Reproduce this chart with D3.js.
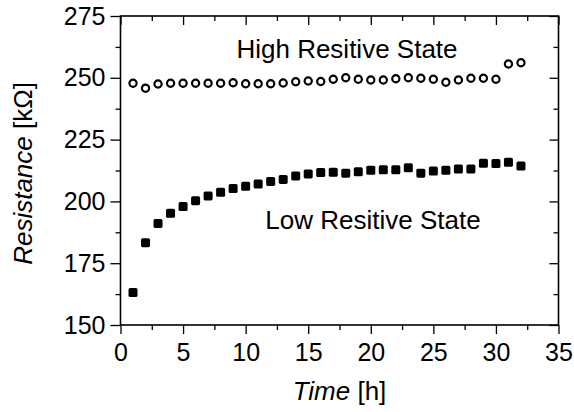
<!DOCTYPE html>
<html>
<head>
<meta charset="utf-8">
<script src="https://cdn.jsdelivr.net/npm/d3@7/dist/d3.min.js"></script>
<style>
  html, body { margin: 0; padding: 0; background: #fff; }
  svg { display: block; font-family: Arial, "Liberation Sans", sans-serif; }
</style>
</head>
<body>
<svg id="chart" width="574" height="412"></svg>
<script>
// Resistance over time for the two resistive states
const hours = d3.range(1, 33);
const highState = [247.8, 245.8, 247.5, 247.8, 247.8, 247.8, 247.8, 247.8, 248.0, 247.6,
                   247.6, 247.6, 247.9, 248.4, 248.7, 248.5, 249.4, 250.0, 249.4, 249.1,
                   249.1, 249.6, 250.0, 249.8, 249.4, 248.2, 249.1, 249.8, 249.8, 249.4,
                   255.6, 256.1];
const lowState = [163.1, 183.3, 191.1, 195.2, 197.9, 200.3, 202.2, 203.7, 205.2, 206.1,
                  207.0, 208.1, 208.9, 210.3, 211.1, 211.7, 211.8, 211.4, 212.0, 212.6,
                  212.8, 212.8, 213.6, 211.4, 212.3, 212.6, 213.1, 213.1, 215.4, 215.3,
                  215.8, 214.3];
const xTicks = [0, 5, 10, 15, 20, 25, 30, 35];
const xMinor = [2.5, 7.5, 12.5, 17.5, 22.5, 27.5, 32.5];
const yTicks = [150, 175, 200, 225, 250, 275];
const yMinor = [162.5, 187.5, 212.5, 237.5, 262.5];

const svg = d3.select("#chart");
const plotL = 120.5, plotR = 558.5, plotT = 16, plotB = 325;
const x = d3.scaleLinear().domain([0, 35]).range([plotL, plotR]);
const y = d3.scaleLinear().domain([150, 275]).range([plotB, plotT]);

const fontSize = 25;
const titleSize = 26;

function styleAxis(g) {
  g.select(".domain").remove();
  g.selectAll(".tick line").attr("stroke", "#000").attr("stroke-width", 1.3);
  g.selectAll(".tick text").attr("font-size", fontSize).attr("fill", "#000")
    .attr("font-family", "Arial, 'Liberation Sans', sans-serif");
}

// bottom axis: major with labels, minor without
svg.append("g").attr("transform", `translate(0,${plotB})`)
  .call(d3.axisBottom(x).tickValues(xTicks).tickSize(9).tickPadding(9).tickFormat(d3.format("d")))
  .call(styleAxis);
svg.append("g").attr("transform", `translate(0,${plotB})`)
  .call(d3.axisBottom(x).tickValues(xMinor).tickSize(5).tickFormat(""))
  .call(styleAxis);
// top axis: inward ticks
svg.append("g").attr("transform", `translate(0,${plotT})`)
  .call(d3.axisBottom(x).tickValues(xTicks).tickSize(9).tickFormat(""))
  .call(styleAxis);
svg.append("g").attr("transform", `translate(0,${plotT})`)
  .call(d3.axisBottom(x).tickValues(xMinor).tickSize(5).tickFormat(""))
  .call(styleAxis);

// left axis
svg.append("g").attr("transform", `translate(${plotL},0)`)
  .call(d3.axisLeft(y).tickValues(yTicks).tickSize(10).tickPadding(5).tickFormat(d3.format("d")))
  .call(styleAxis);
svg.append("g").attr("transform", `translate(${plotL},0)`)
  .call(d3.axisLeft(y).tickValues(yMinor).tickSize(5).tickFormat(""))
  .call(styleAxis);
// right axis: inward ticks
svg.append("g").attr("transform", `translate(${plotR},0)`)
  .call(d3.axisLeft(y).tickValues(yTicks).tickSize(9).tickFormat(""))
  .call(styleAxis);
svg.append("g").attr("transform", `translate(${plotR},0)`)
  .call(d3.axisLeft(y).tickValues(yMinor).tickSize(5).tickFormat(""))
  .call(styleAxis);

// frame
svg.append("rect")
  .attr("x", plotL).attr("y", plotT)
  .attr("width", plotR - plotL).attr("height", plotB - plotT)
  .attr("fill", "none").attr("stroke", "#000").attr("stroke-width", 1.6);

// low resistive state: filled squares
const sq = 9;
svg.append("g").selectAll("rect")
  .data(hours.map((h, i) => [h, lowState[i]]))
  .join("rect")
  .attr("x", d => x(d[0]) - sq / 2)
  .attr("y", d => y(d[1]) - sq / 2)
  .attr("width", sq).attr("height", sq)
  .attr("rx", 1.6)
  .attr("fill", "#000");

// high resistive state: open circles
svg.append("g").selectAll("circle")
  .data(hours.map((h, i) => [h, highState[i]]))
  .join("circle")
  .attr("cx", d => x(d[0]))
  .attr("cy", d => y(d[1]))
  .attr("r", 3.6)
  .attr("fill", "#fff")
  .attr("stroke", "#000")
  .attr("stroke-width", 2.2);

// annotations
svg.append("text").attr("x", 347).attr("y", 58)
  .attr("text-anchor", "middle").attr("font-size", titleSize)
  .text("High Resitive State");
svg.append("text").attr("x", 373).attr("y", 229)
  .attr("text-anchor", "middle").attr("font-size", titleSize)
  .text("Low Resitive State");

// axis titles
const xt = svg.append("text").attr("x", (plotL + plotR) / 2).attr("y", 400)
  .attr("text-anchor", "middle").attr("font-size", titleSize);
xt.append("tspan").attr("font-style", "italic").text("Time");
xt.append("tspan").text(" [h]");

const yt = svg.append("text")
  .attr("transform", `translate(32,${(plotT + plotB) / 2 + 3}) rotate(-90)`)
  .attr("text-anchor", "middle").attr("font-size", titleSize);
yt.append("tspan").attr("font-style", "italic").text("Resistance");
yt.append("tspan").text(" [kΩ]");
</script>
</body>
</html>
